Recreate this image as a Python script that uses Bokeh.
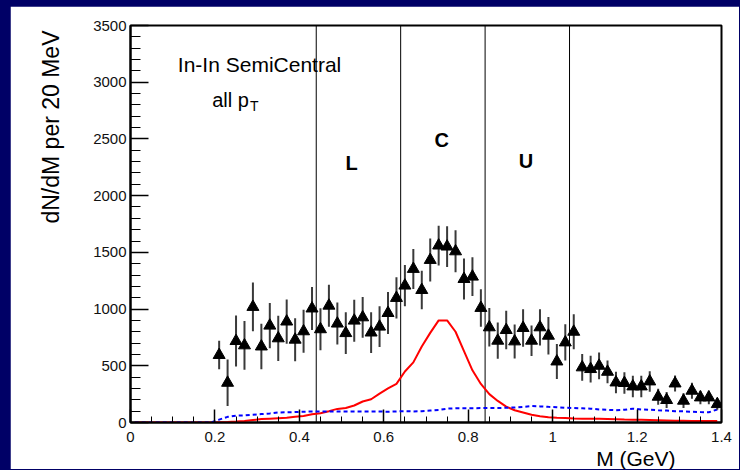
import numpy as np
from bokeh.plotting import figure
from bokeh.models import Span, Label, Title, FixedTicker, CustomJSTickFormatter, Range1d
from bokeh.embed import file_html
from bokeh.resources import INLINE

# ---- data points (bin centres, GeV) ----
mass = [0.21, 0.23, 0.25, 0.27, 0.29, 0.31, 0.33, 0.35, 0.37, 0.39,
        0.41, 0.43, 0.45, 0.47, 0.49, 0.51, 0.53, 0.55, 0.57, 0.59,
        0.61, 0.63, 0.65, 0.67, 0.69, 0.71, 0.73, 0.75, 0.77, 0.79,
        0.81, 0.83, 0.85, 0.87, 0.89, 0.91, 0.93, 0.95, 0.97, 0.99,
        1.01, 1.03, 1.05, 1.07, 1.09, 1.11, 1.13, 1.15, 1.17, 1.19,
        1.21, 1.23, 1.25, 1.27, 1.29, 1.31, 1.33, 1.35, 1.37, 1.39]
counts = [595, 350, 718, 680, 1019, 670, 854, 742, 890, 730,
          804, 1005, 822, 1030, 872, 788, 898, 927, 793, 845,
          965, 1098, 1207, 1354, 1168, 1433, 1560, 1551, 1509, 1265,
          1286, 1010, 839, 721, 815, 715, 833, 721, 839, 765,
          538, 706, 800, 486, 471, 500, 447, 353, 348, 318,
          318, 362, 227, 198, 344, 192, 280, 221, 221, 162]
errors = [125, 205, 225, 215, 215, 200, 200, 200, 195, 190,
          190, 190, 185, 185, 185, 185, 185, 180, 180, 180,
          185, 182, 182, 176, 170, 190, 175, 180, 185, 180,
          170, 165, 170, 160, 170, 150, 165, 135, 160, 165,
          155, 160, 155, 118, 118, 118, 100, 95, 95, 95,
          95, 90, 70, 70, 70, 65, 70, 60, 60, 50]

# ---- curves ----
curve_mass = [0.01, 0.03, 0.05, 0.07, 0.09, 0.11, 0.13, 0.15, 0.17, 0.19,
              0.21, 0.23, 0.25, 0.27, 0.29, 0.31, 0.33, 0.35, 0.37, 0.39,
              0.41, 0.43, 0.45, 0.47, 0.49, 0.51, 0.53, 0.55, 0.57, 0.59,
              0.61, 0.63, 0.65, 0.67, 0.69, 0.71, 0.73, 0.75, 0.77, 0.79,
              0.81, 0.83, 0.85, 0.87, 0.89, 0.91, 0.93, 0.95, 0.97, 0.99,
              1.01, 1.03, 1.05, 1.07, 1.09, 1.11, 1.13, 1.15, 1.17, 1.19,
              1.21, 1.23, 1.25, 1.27, 1.29, 1.31, 1.33, 1.35, 1.37, 1.39]
rho_curve = [0, 0, 0, 0, 0, 0, 0, 0, 0, 0,
             2, 4, 8, 14, 22, 30, 34, 38, 42, 50,
             58, 72, 82, 100, 120, 128, 150, 185, 205, 255,
             300, 340, 450, 530, 670, 790, 900, 900, 800, 630,
             460, 340, 250, 190, 140, 108, 88, 68, 56, 46,
             42, 40, 36, 34, 33, 32, 30, 28, 26, 25,
             24, 22, 20, 18, 16, 15, 14, 14, 13, 13]
bkg_curve = [0, 0, 0, 0, 0, 0, 0, 0, 0, 0,
             25, 50, 60, 62, 68, 74, 80, 88, 90, 92,
             95, 97, 97, 98, 98, 97, 98, 97, 96, 97,
             95, 97, 100, 98, 100, 105, 110, 122, 125, 125,
             126, 127, 127, 128, 130, 132, 138, 145, 142, 138,
             135, 130, 128, 125, 122, 115, 112, 108, 112, 122,
             115, 112, 108, 105, 100, 98, 95, 92, 90, 115]

# ---- mass windows ----
window_edges = [0.44, 0.64, 0.84, 1.04]
window_names = ["L", "C", "U"]
window_label_x = [0.524, 0.737, 0.937]
window_label_y = [2288, 2489, 2305]

# ---- ticks ----
x_major = [0, 0.2, 0.4, 0.6, 0.8, 1.0, 1.2, 1.4]
x_minor = [round(0.05 * i, 2) for i in range(29)]
y_major = [0, 500, 1000, 1500, 2000, 2500, 3000, 3500]
y_minor = [100 * i for i in range(36)]

FONT = "Liberation Sans"

p = figure(width=729, height=463,
           x_range=Range1d(0, 1.4), y_range=Range1d(0, 3500),
           output_backend="svg", toolbar_location=None,
           min_border_left=118, min_border_right=18,
           min_border_top=19, min_border_bottom=47,
           background_fill_color="white", border_fill_color="white",
           margin=(6, 0, 0, 10))
p.grid.visible = False
p.outline_line_color = "black"
p.outline_line_width = 2

xa = p.xaxis[0]
xa.ticker = FixedTicker(ticks=x_major, minor_ticks=x_minor)
xa.formatter = CustomJSTickFormatter(code="return String(Number(tick.toFixed(2)));")
xa.major_tick_in = 13
xa.major_tick_out = 0
xa.minor_tick_in = 6
xa.minor_tick_out = 0
xa.axis_line_width = 2
xa.major_tick_line_width = 1.5
xa.major_label_standoff = 9
xa.major_label_text_font = FONT
xa.major_label_text_font_size = "15px"
xa.major_label_text_color = "#111111"

ya = p.yaxis[0]
ya.ticker = FixedTicker(ticks=y_major, minor_ticks=y_minor)
ya.major_tick_in = 18
ya.major_tick_out = 0
ya.minor_tick_in = 10
ya.minor_tick_out = 0
ya.axis_line_width = 2
ya.major_tick_line_width = 1.5
ya.major_label_standoff = 4
ya.major_label_text_font = FONT
ya.major_label_text_font_size = "15px"
ya.major_label_text_color = "#111111"

for edge in window_edges:
    p.add_layout(Span(location=edge, dimension="height", line_color="black",
                      line_width=1, level="underlay"))

p.line(curve_mass, rho_curve, line_color="red", line_width=2)
p.line(curve_mass, bkg_curve, line_color="blue", line_width=2, line_dash="4 3")

lo = [c - e for c, e in zip(counts, errors)]
hi = [c + e for c, e in zip(counts, errors)]
p.segment(x0=mass, y0=lo, x1=mass, y1=hi, line_color="#3a3a3a", line_width=2)
p.scatter(mass, counts, marker="triangle", size=12, fill_color="black", line_color="black")

for name, lx, ly in zip(window_names, window_label_x, window_label_y):
    p.add_layout(Label(x=lx, y=ly, text=name, text_font=FONT, text_font_style="bold",
                       text_font_size="20px", text_align="center", text_baseline="middle",
                       text_color="black"))

p.add_layout(Label(x=0.3057, y=3156, text="In-In SemiCentral", text_font=FONT,
                   text_font_size="21px", text_align="center", text_baseline="alphabetic",
                   text_color="black"))
p.add_layout(Label(x=0.1936, y=2839, text="all p", text_font=FONT,
                   text_font_size="20px", text_align="left", text_baseline="alphabetic",
                   text_color="black"))
p.add_layout(Label(x=0.2833, y=2786, text="T", text_font=FONT,
                   text_font_size="14px", text_align="left", text_baseline="alphabetic",
                   text_color="black"))

# axis titles as side-panel titles
p.add_layout(Title(text="dN/dM per 20 MeV", align="right", offset=5, standoff=52,
                   vertical_align="middle",
                   text_font=FONT, text_font_size="23px", text_font_style="normal",
                   text_color="black"), "left")
p.add_layout(Title(text="M (GeV)", align="right", offset=46, standoff=0,
                   text_font=FONT, text_font_size="21px", text_font_style="normal",
                   text_color="black"), "below")

html = file_html(p, INLINE, title="In-In SemiCentral dimuon mass")
html = html.replace("</head>",
                    "<style>html, body { background-color: #000066; margin: 0; }</style></head>", 1)
open("out.html", "w").write(html)
